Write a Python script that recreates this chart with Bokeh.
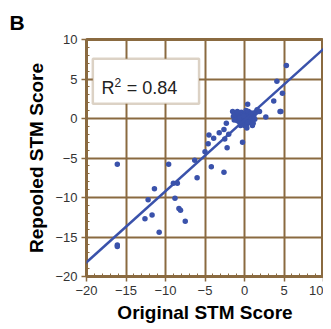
from bokeh.plotting import figure
from bokeh.models import Range1d, FixedTicker, Slope, BoxAnnotation, Label
from bokeh.embed import file_html
from bokeh.resources import INLINE

# Data
orig = [-16.1, -16.1, -16.1, -11.4, -12.2, -11.7, -12.6, -10.8, -9.6, -9.0, -8.5, -8.8,
        -8.3, -8.1, -7.5, -6.3, -6.0, -5.0, -4.6, -4.5, -4.2, -3.9, -3.2, -2.6, -2.6,
        -2.5, -2.3, -2.2, -2.0, -0.25, -1.5, -1.4, 0.4, 2.7, 3.7, 4.5, 4.8, 5.3, 4.1,
        4.6,
        -1.2, -1.0, -0.9, -0.8, -0.7, -0.6, -0.5, -0.4, -0.3, -0.2, -0.1, 0.0, 0.0, 0.1,
        0.2, 0.2, 0.3, 0.3, 0.4, 0.5, 0.5, 0.6, 0.7, 0.8, 0.9, 1.0, 1.1, 1.2, 1.3, 1.5,
        -0.5, 0.1, -0.2, 0.4, 0.6, -0.6, 0.8, 1.6, 1.9, -1.3, 0.2, -0.1, 0.3, 1.0, -0.9]
repooled = [-5.8, -16.0, -16.2, -8.9, -10.3, -12.2, -12.7, -14.4, -5.8, -8.2, -8.2, -10.1,
            -11.4, -11.6, -13.0, -5.3, -7.5, -4.2, -3.2, -2.1, -6.1, -2.5, -1.8, -6.8, -1.4,
            -2.6, -0.6, -3.7, -2.0, -3.0, 0.9, 0.3, 1.8, 0.2, 2.2, 0.9, 3.2, 6.7, 4.7,
            0.9,
            0.5, 0.2, -0.3, 0.6, 0.0, -0.5, 0.3, 0.8, -0.2, 0.5, -0.6, 0.1, -0.9, 0.6,
            -0.3, 1.0, 0.2, -0.7, 0.5, -0.1, 0.9, -0.5, 0.3, -0.2, 0.7, 0.0, -0.6, 0.4, -0.1, 0.8,
            -0.9, -0.1, 0.0, -0.4, 0.2, 0.1, 0.6, 1.1, 0.9, -0.2, 0.3, 0.3, -1.2, -0.9, 0.9]
fit_slope = 0.9
fit_intercept = -0.2
r2_value = "= 0.84"
panel_letter = "B"
ticks = [-20, -15, -10, -5, 0, 5, 10]
minor = list(range(-20, 11))

BROWN = "#8a6a40"
BLUE = "#3a52ab"
FONT = "Liberation Sans"

p = figure(width=323, height=327, output_backend="svg", toolbar_location=None,
           x_range=Range1d(-20, 10), y_range=Range1d(-20, 10),
           min_border_left=86, min_border_right=0, min_border_top=39, min_border_bottom=51)

p.title.text = panel_letter
p.title.text_font = FONT
p.title.text_font_style = "bold"
p.title.text_font_size = "21px"
p.title.text_color = "black"
p.title.align = "left"
p.title.offset = -77
p.title.standoff = 12

p.outline_line_color = BROWN
p.outline_line_width = 3
p.background_fill_color = "white"

for ax in (p.xaxis[0], p.yaxis[0]):
    ax.ticker = FixedTicker(ticks=ticks, minor_ticks=minor)
    ax.axis_line_color = BROWN
    ax.axis_line_width = 2
    ax.major_tick_line_color = BROWN
    ax.major_tick_line_width = 1.5
    ax.major_tick_out = 5
    ax.major_tick_in = 0
    ax.minor_tick_line_color = BROWN
    ax.minor_tick_line_width = 1
    ax.minor_tick_in = 3
    ax.minor_tick_out = 0
    ax.major_label_text_font = FONT
    ax.major_label_text_font_size = "13px"
    ax.major_label_text_color = "#333333"
    ax.axis_label_text_font = FONT
    ax.axis_label_text_font_style = "bold"
    ax.axis_label_text_font_size = "19px"
    ax.axis_label_text_color = "black"

p.xaxis.axis_label = "Original STM Score"
p.yaxis.axis_label = "Repooled STM Score"
p.xaxis.major_label_standoff = 4
p.yaxis.major_label_standoff = 4
p.xaxis.axis_label_standoff = 4
p.yaxis.axis_label_standoff = 5

p.xgrid.ticker = FixedTicker(ticks=ticks)
p.ygrid.ticker = FixedTicker(ticks=ticks)
p.grid.grid_line_color = BROWN
p.grid.grid_line_width = 2

p.add_layout(Slope(gradient=fit_slope, y_intercept=fit_intercept,
                   line_color=BLUE, line_width=2.5))
p.scatter(orig, repooled, size=5.5, color=BLUE, line_color=None)

p.add_layout(BoxAnnotation(left=-19.2, right=-5.75, bottom=1.86, top=7.56,
                           fill_color="white", fill_alpha=1,
                           line_color=BROWN, line_width=2.5))
p.add_layout(Label(x=-18.1, y=3.8, text="R", text_font=FONT,
                   text_font_size="18px", text_baseline="alphabetic", text_color="#222222"))
p.add_layout(Label(x=-16.45, y=4.6, text="2", text_font=FONT,
                   text_font_size="12px", text_baseline="alphabetic", text_color="#222222"))
p.add_layout(Label(x=-14.9, y=3.8, text=r2_value, text_font=FONT,
                   text_font_size="18px", text_baseline="alphabetic", text_color="#222222"))

open("out.html", "w").write(file_html(p, INLINE))
